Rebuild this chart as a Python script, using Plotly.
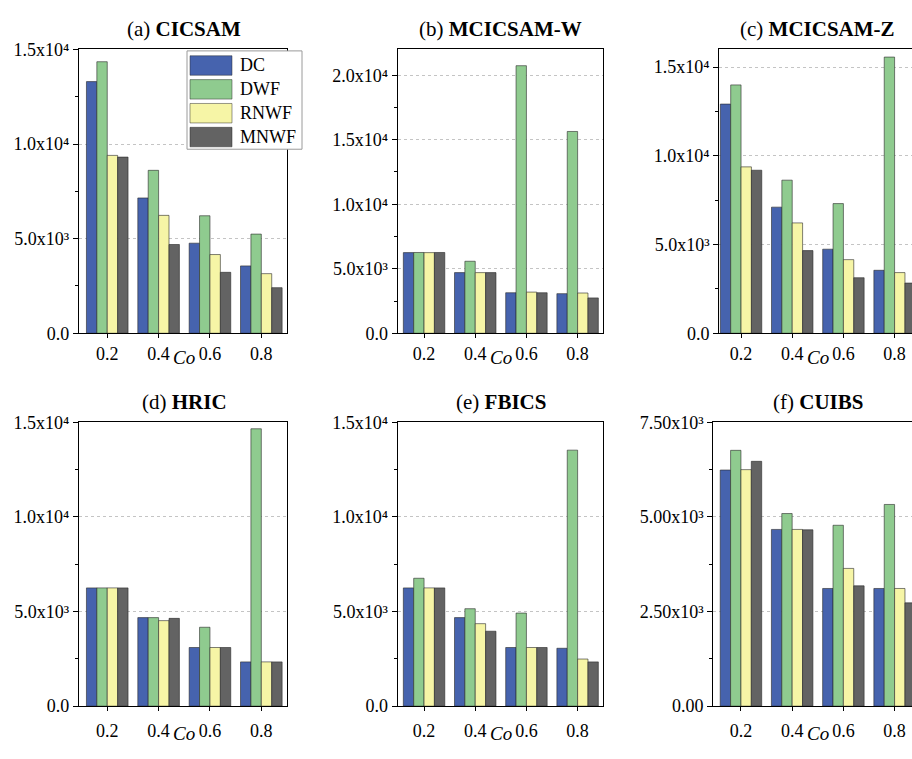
import plotly.graph_objects as go

W, H = 912, 759

CO = [0.2, 0.4, 0.6, 0.8]
CO_LABELS = ["0.2", "0.4", "0.6", "0.8"]
SERIES = ["DC", "DWF", "RNWF", "MNWF"]
COLORS = ["#4663ae", "#8fcb8f", "#f6f5a6", "#636363"]

PANELS = ["(a) <b>CICSAM</b>", "(b) <b>MCICSAM-W</b>", "(c) <b>MCICSAM-Z</b>",
          "(d) <b>HRIC</b>", "(e) <b>FBICS</b>", "(f) <b>CUIBS</b>"]

# values per panel: DC, DWF, RNWF, MNWF at Co = 0.2, 0.4, 0.6, 0.8
CICSAM_DC = [13300, 7150, 4760, 3560]
CICSAM_DWF = [14350, 8610, 6210, 5240]
CICSAM_RNWF = [9400, 6230, 4160, 3150]
CICSAM_MNWF = [9310, 4690, 3220, 2410]

MCW_DC = [6250, 4700, 3140, 3070]
MCW_DWF = [6260, 5580, 20740, 15640]
MCW_RNWF = [6250, 4700, 3190, 3120]
MCW_MNWF = [6260, 4700, 3140, 2740]

MCZ_DC = [12920, 7110, 4740, 3550]
MCZ_DWF = [14000, 8630, 7310, 15570]
MCZ_RNWF = [9380, 6220, 4150, 3420]
MCZ_MNWF = [9190, 4660, 3130, 2830]

HRIC_DC = [6250, 4680, 3100, 2340]
HRIC_DWF = [6250, 4680, 4170, 14660]
HRIC_RNWF = [6250, 4520, 3100, 2340]
HRIC_MNWF = [6250, 4640, 3100, 2340]

FBICS_DC = [6250, 4680, 3100, 3060]
FBICS_DWF = [6760, 5150, 4920, 13530]
FBICS_RNWF = [6250, 4360, 3100, 2490]
FBICS_MNWF = [6250, 3960, 3100, 2340]

CUIBS_DC = [6240, 4670, 3110, 3110]
CUIBS_DWF = [6760, 5090, 4780, 5330]
CUIBS_RNWF = [6250, 4670, 3640, 3110]
CUIBS_MNWF = [6470, 4660, 3180, 2730]

DATA = [
    [CICSAM_DC, CICSAM_DWF, CICSAM_RNWF, CICSAM_MNWF],
    [MCW_DC, MCW_DWF, MCW_RNWF, MCW_MNWF],
    [MCZ_DC, MCZ_DWF, MCZ_RNWF, MCZ_MNWF],
    [HRIC_DC, HRIC_DWF, HRIC_RNWF, HRIC_MNWF],
    [FBICS_DC, FBICS_DWF, FBICS_RNWF, FBICS_MNWF],
    [CUIBS_DC, CUIBS_DWF, CUIBS_RNWF, CUIBS_MNWF],
]

TICKS_15K = [0, 5000, 10000, 15000]
TICKS_15K_TEXT = ["0.0", "5.0x10³", "1.0x10⁴", "1.5x10⁴"]
TICKS_20K = [0, 5000, 10000, 15000, 20000]
TICKS_20K_TEXT = ["0.0", "5.0x10³", "1.0x10⁴", "1.5x10⁴", "2.0x10⁴"]
TICKS_75 = [0, 2500, 5000, 7500]
TICKS_75_TEXT = ["0.00", "2.50x10³", "5.00x10³", "7.50x10³"]

YTICKS = [
    (TICKS_15K, TICKS_15K_TEXT, [2500, 7500, 12500], [0, 15000]),
    (TICKS_20K, TICKS_20K_TEXT, [2500, 7500, 12500, 17500], [0, 22000]),
    (TICKS_15K, TICKS_15K_TEXT, [2500, 7500, 12500], [0, 16000]),
    (TICKS_15K, TICKS_15K_TEXT, [2500, 7500, 12500], [0, 15000]),
    (TICKS_15K, TICKS_15K_TEXT, [2500, 7500, 12500], [0, 15000]),
    (TICKS_75, TICKS_75_TEXT, [1250, 3750, 6250], [0, 7500]),
]

# layout geometry in pixels: (left, right, top, bottom) and x ranges
BOXES = [(79, 287, 40.5, 332), (397.7, 603.2, 40.5, 332), (719.3, 912, 40.5, 332),
         (79, 287, 423.5, 715), (397.7, 603.2, 423.5, 715), (713.3, 912, 423.5, 715)]
XRANGES = [[0.09, 0.90], [0.097, 0.90], [0.115, 0.868],
           [0.09, 0.90], [0.097, 0.90], [0.092, 0.868]]

FONT = "Liberation Serif, Times New Roman, serif"

fig = go.Figure()
layout = {}
annotations = []
for i in range(6):
    n = "" if i == 0 else str(i + 1)
    for j, s in enumerate(SERIES):
        fig.add_trace(go.Bar(
            x=CO, y=DATA[i][j], name=s, xaxis="x" + n, yaxis="y" + n,
            marker=dict(color=COLORS[j], line=dict(color="rgba(40,40,40,0.75)", width=0.8)),
            showlegend=False,
        ))
    l, r, t, b = BOXES[i]
    tv, tt, minor, yr = YTICKS[i]
    right_edge = i in (2, 5)
    layout["xaxis" + n] = dict(
        domain=[l / W, min(r / W, 1.0)], anchor="y" + n, range=XRANGES[i],
        tickvals=CO, ticktext=CO_LABELS, ticks="outside", ticklen=4, tickwidth=1.2,
        tickcolor="black", showline=True, linecolor="black", linewidth=1.3,
        mirror=True, showgrid=False, zeroline=False,
        ticklabelstandoff=0 if i < 3 else 4,
        tickfont=dict(size=18, color="black", family=FONT),
    )
    layout["yaxis" + n] = dict(
        domain=[1 - b / H, 1 - t / H], anchor="x" + n, range=yr,
        tickvals=tv, ticktext=tt, ticks="outside", ticklen=5, tickwidth=1.2,
        tickcolor="black", showline=True, linecolor="black", linewidth=1.3,
        mirror=not right_edge, showgrid=True, gridcolor="#c4c4c4",
        griddash="3px,3px", gridwidth=1, zeroline=False,
        minor=dict(tickvals=minor, ticks="outside", ticklen=3, tickwidth=1,
                   tickcolor="black", showgrid=False),
        tickfont=dict(size=18, color="black", family=FONT),
    )
    title_y = 20 if i < 3 else 403
    co_y = 357 if i < 3 else 743
    annotations.append(dict(
        text=PANELS[i], xref="x" + n, x=0.5, yref="paper", y=1 - title_y / H,
        xanchor="center", yanchor="middle", showarrow=False,
        font=dict(size=21, color="black", family=FONT),
    ))
    annotations.append(dict(
        text="<i>Co</i>", xref="x" + n, x=0.5, yref="paper", y=1 - co_y / H,
        xanchor="center", yanchor="middle", showarrow=False,
        font=dict(size=19, color="black", family=FONT),
    ))

# hand-drawn legend in panel (a)
shapes = [dict(type="rect", xref="paper", yref="paper",
               x0=187 / W, x1=302 / W, y0=1 - 143 / H, y1=1 - 42 / H,
               fillcolor="white", line=dict(color="#9a9a9a", width=1), layer="above")]
for j, s in enumerate(SERIES):
    top = 47 + j * 24.5
    shapes.append(dict(type="rect", xref="paper", yref="paper",
                       x0=190 / W, x1=232 / W, y0=1 - (top + 20) / H, y1=1 - top / H,
                       fillcolor=COLORS[j], line=dict(color="rgba(40,40,40,0.6)", width=0.8),
                       layer="above"))
    annotations.append(dict(
        text=s, xref="paper", x=238 / W, yref="paper", y=1 - (top + 10) / H,
        xanchor="left", yanchor="middle", showarrow=False,
        font=dict(size=18, color="black", family=FONT),
    ))

fig.update_layout(
    width=W, height=H, margin=dict(l=0, r=0, t=0, b=0),
    paper_bgcolor="white", plot_bgcolor="white",
    barmode="group", bargap=0.19, bargroupgap=0,
    font=dict(family=FONT, color="black"),
    annotations=annotations, shapes=shapes, showlegend=False,
    **layout,
)

fig.write_html("out.html", config={"displayModeBar": False},
               post_script="document.body.style.margin='0';document.body.style.overflow='hidden';")
